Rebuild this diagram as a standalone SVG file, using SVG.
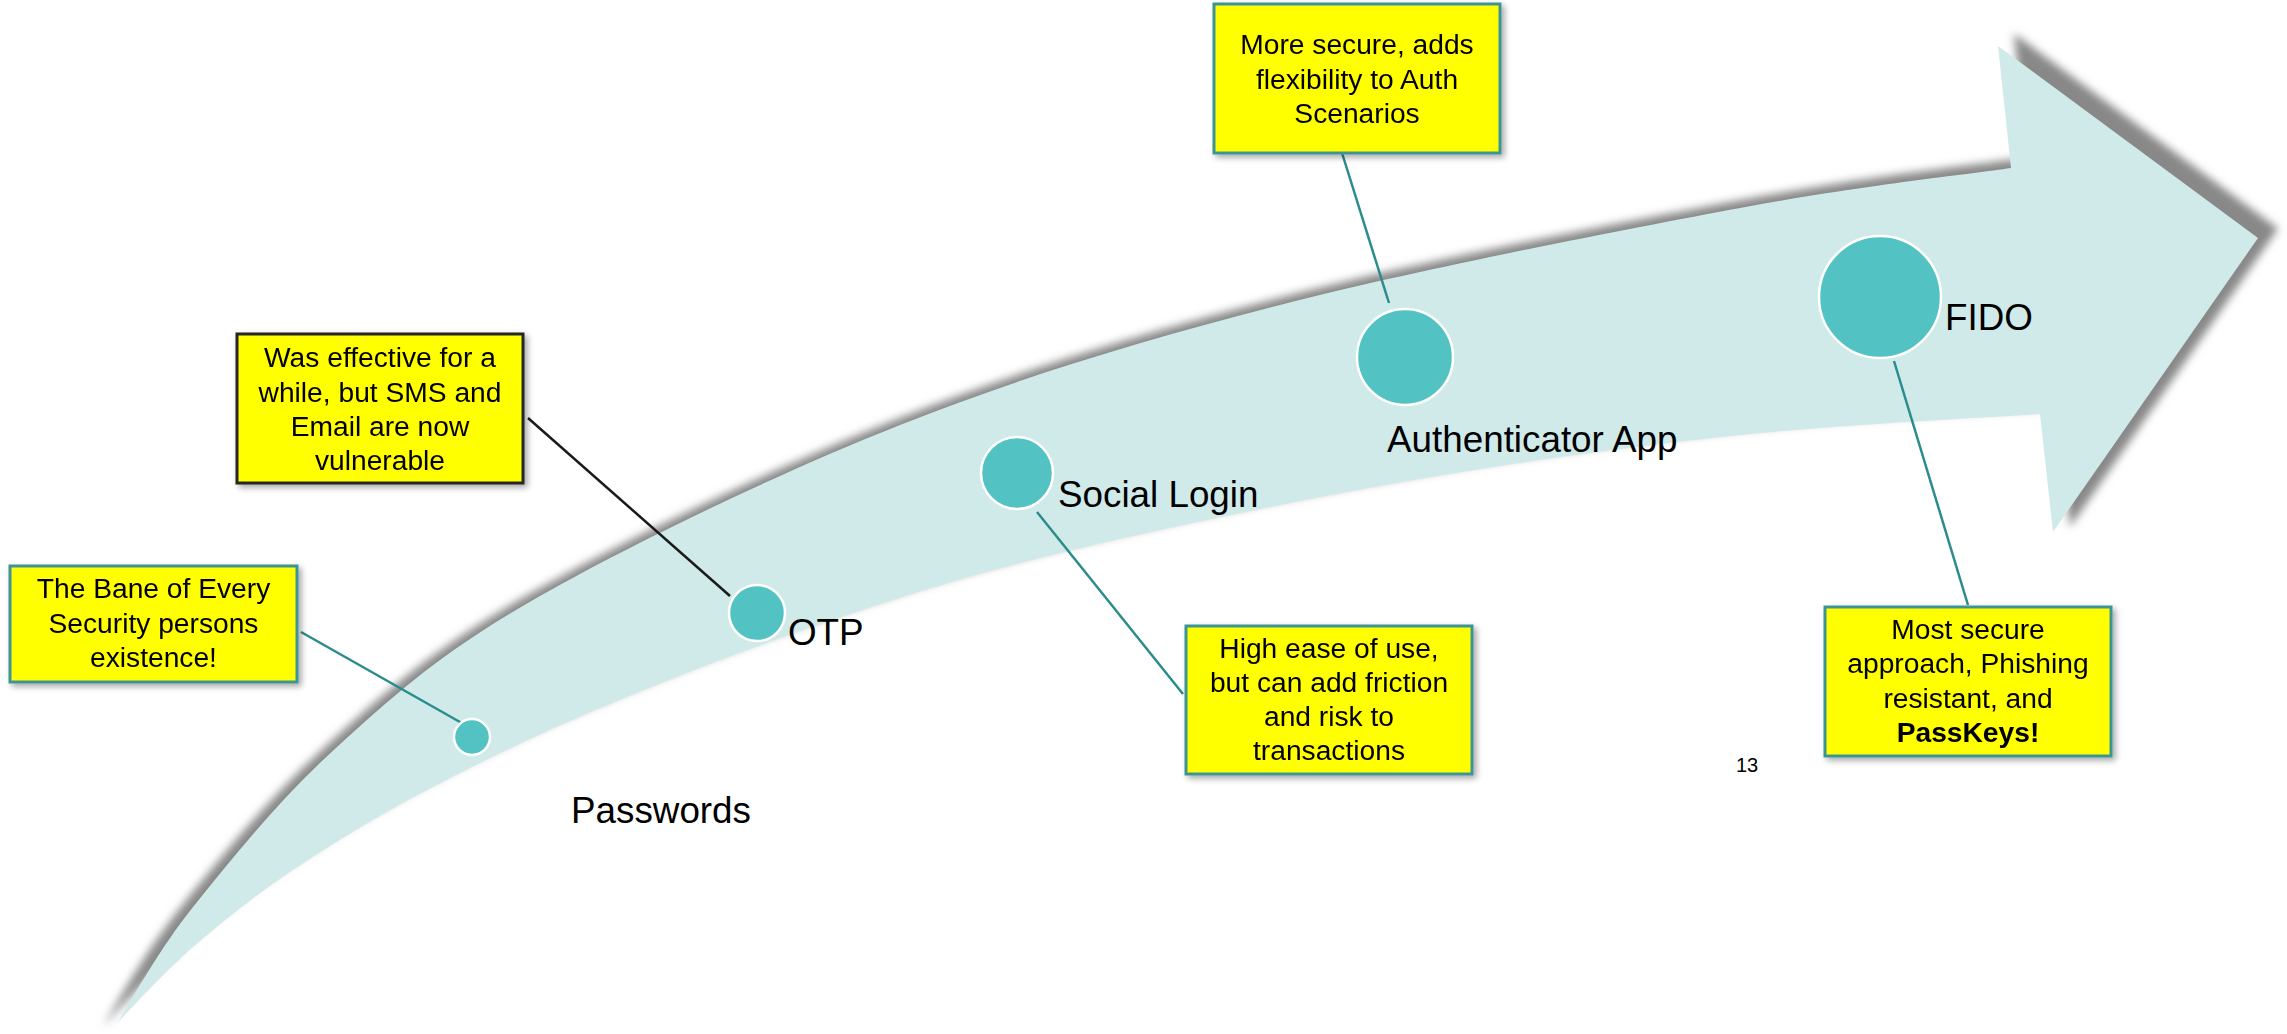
<svg xmlns="http://www.w3.org/2000/svg" width="2287" height="1034" viewBox="0 0 2287 1034">
  <style>
    .lbl { font-family: "Liberation Sans", Arial, sans-serif; font-size: 36.8px; fill: #000; }
    .box { fill: #FFFF00; stroke: #3E9494; stroke-width: 3; }
    .boxdark { fill: #FFFF00; stroke: #262626; stroke-width: 3; }
    .bt { font-family: "Liberation Sans", Arial, sans-serif; font-size: 28.2px; fill: #000; text-anchor: middle; }
    .dot { fill: #52C3C2; stroke: #FFFFFF; stroke-width: 2.5; }
    .con { stroke: #2B8C8C; stroke-width: 2.5; fill: none; }
    .conk { stroke: #1A1A1A; stroke-width: 2.5; fill: none; }
    .pg { font-family: "Liberation Sans", Arial, sans-serif; font-size: 20px; fill: #000; text-anchor: middle; }
  </style>
  <defs>
    <filter id="arrowShadow" x="-5%" y="-10%" width="110%" height="120%">
      <feGaussianBlur stdDeviation="4"/>
    </filter>
    <filter id="boxShadow" x="-10%" y="-10%" width="120%" height="130%">
      <feGaussianBlur in="SourceAlpha" stdDeviation="3"/>
      <feOffset dx="3" dy="3" result="b"/>
      <feComponentTransfer><feFuncA type="linear" slope="0.35"/></feComponentTransfer>
      <feMerge><feMergeNode/><feMergeNode in="SourceGraphic"/></feMerge>
    </filter>
    <path id="arrowPath" d="M117,1023 C129.7,1003.7 156.3,953 193,907 C229.7,861 280.3,798.2 337,747 C393.7,695.8 439.2,653.7 533,600 C626.8,546.3 775.5,474.2 900,425 C1024.5,375.8 1140,341.2 1280,305 C1420,268.8 1618.2,230.8 1740,208 C1861.8,185.2 1965.8,174.7 2011,168 L1998,46 L2258,238 L2053,532 L2040,414 C1990,417.5 1844.5,424 1740,435 C1635.5,446 1525.7,460.5 1413,480 C1300.3,499.5 1161.8,528.3 1064,552 C966.2,575.7 903.3,596 826,622 C748.7,648 666.5,680 600,708 C533.5,736 478.2,763 427,790 C375.8,817 332,843.8 293,870 C254,896.2 222.3,921.5 193,947 C163.7,972.5 129.7,1010.3 117,1023 Z"/>
  </defs>

  <g id="arrow">
    <use href="#arrowPath" fill="#888888" transform="matrix(1.016 0 0 1.016 -16 -13.3)" filter="url(#arrowShadow)"/>
    <use href="#arrowPath" fill="#D0EAEA"/>
  </g>

  <g id="connectors">
    <line class="con" x1="301" y1="632" x2="467" y2="726"/>
    <line class="conk" x1="528" y1="418" x2="730" y2="596"/>
    <line class="con" x1="1037" y1="512" x2="1183" y2="694"/>
    <line class="con" x1="1342" y1="153" x2="1389" y2="303"/>
    <line class="con" x1="1894" y1="361" x2="1968" y2="605"/>
  </g>

  <g id="passwords">
    <circle class="dot" cx="472" cy="737" r="18"/>
    <text class="lbl" x="571" y="823">Passwords</text>
  </g>
  <g id="otp">
    <circle class="dot" cx="757" cy="613" r="28"/>
    <text class="lbl" x="788" y="645">OTP</text>
  </g>
  <g id="social-login">
    <circle class="dot" cx="1017" cy="473" r="36"/>
    <text class="lbl" x="1058" y="507">Social Login</text>
  </g>
  <g id="authenticator-app">
    <circle class="dot" cx="1405" cy="357" r="48"/>
    <text class="lbl" x="1387" y="452">Authenticator App</text>
  </g>
  <g id="fido">
    <circle class="dot" cx="1880" cy="297" r="61"/>
    <text class="lbl" x="1945" y="330">FIDO</text>
  </g>

  <g id="note-passwords" filter="url(#boxShadow)">
    <rect class="box" x="10" y="566" width="287" height="116"/>
    <text class="bt" x="153.5" y="598">The Bane of Every</text>
    <text class="bt" x="153.5" y="633">Security persons</text>
    <text class="bt" x="153.5" y="667">existence!</text>
  </g>
  <g id="note-otp" filter="url(#boxShadow)">
    <rect class="boxdark" x="237" y="334" width="286" height="149"/>
    <text class="bt" x="380" y="367">Was effective for a</text>
    <text class="bt" x="380" y="402">while, but SMS and</text>
    <text class="bt" x="380" y="436">Email are now</text>
    <text class="bt" x="380" y="470">vulnerable</text>
  </g>
  <g id="note-social" filter="url(#boxShadow)">
    <rect class="box" x="1186" y="626" width="286" height="148"/>
    <text class="bt" x="1329" y="658">High ease of use,</text>
    <text class="bt" x="1329" y="692">but can add friction</text>
    <text class="bt" x="1329" y="726">and risk to</text>
    <text class="bt" x="1329" y="760">transactions</text>
  </g>
  <g id="note-auth" filter="url(#boxShadow)">
    <rect class="box" x="1214" y="4" width="286" height="149"/>
    <text class="bt" x="1357" y="54">More secure, adds</text>
    <text class="bt" x="1357" y="89">flexibility to Auth</text>
    <text class="bt" x="1357" y="123">Scenarios</text>
  </g>
  <g id="note-fido" filter="url(#boxShadow)">
    <rect class="box" x="1825" y="607" width="286" height="149"/>
    <text class="bt" x="1968" y="639">Most secure</text>
    <text class="bt" x="1968" y="673">approach, Phishing</text>
    <text class="bt" x="1968" y="708">resistant, and</text>
    <text class="bt" x="1968" y="742" font-weight="bold">PassKeys!</text>
  </g>

  <text class="pg" x="1747" y="772">13</text>
</svg>
